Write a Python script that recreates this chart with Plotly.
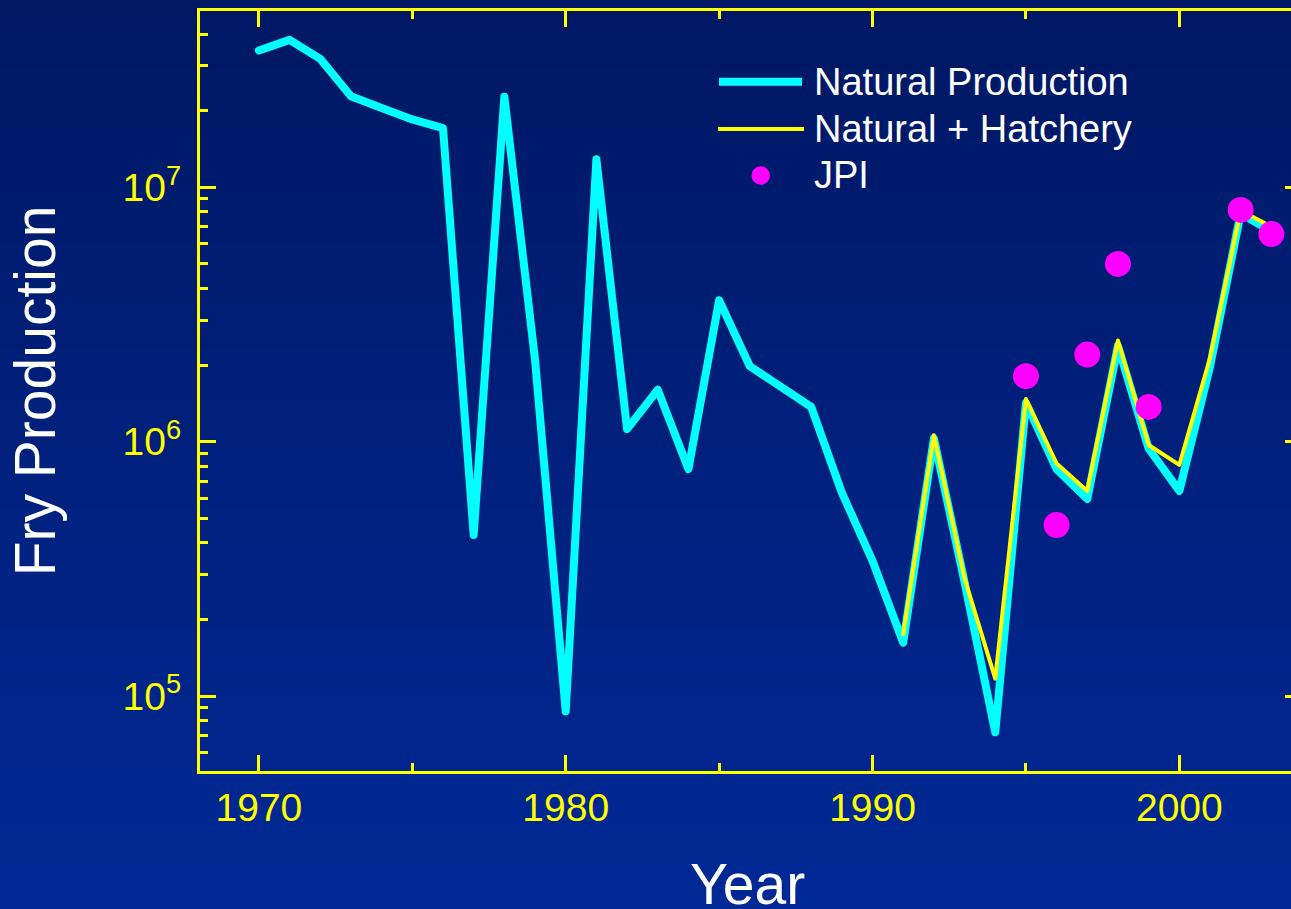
import plotly.graph_objects as go

# ---- data -------------------------------------------------------------
years_natural = list(range(1970, 2004))
natural_production = [
    3.45e7, 3.8e7, 3.2e7, 2.28e7, 2.05e7, 1.85e7, 1.71e7, 4.3e5, 2.27e7, 2.1e6,
    8.7e4, 1.29e7, 1.12e6, 1.6e6, 7.8e5, 3.6e6, 1.98e6, 1.66e6, 1.37e6, 6.3e5,
    3.4e5, 1.62e5, 1.03e6, 2.8e5, 7.2e4, 1.42e6, 7.8e5, 5.95e5, 2.38e6, 9.4e5,
    6.4e5, 1.97e6, 7.9e6, 6.7e6,
]

years_combined = list(range(1991, 2004))
natural_plus_hatchery = [
    1.75e5, 1.06e6, 2.9e5, 1.17e5, 1.47e6, 8.2e5, 6.4e5, 2.5e6, 9.7e5, 8.1e5,
    2.13e6, 8.1e6, 7.0e6,
]

years_jpi = [1995, 1996, 1997, 1998, 1999, 2002, 2003]
jpi = [1.81e6, 4.7e5, 2.2e6, 5.0e6, 1.37e6, 8.15e6, 6.55e6]

x_major = [1970, 1980, 1990, 2000]
x_minor = [1975, 1985, 1995]
y_major = [1e5, 1e6, 1e7]
y_major_text = ["10<sup>5</sup>", "10<sup>6</sup>", "10<sup>7</sup>"]
y_minor = [m * 10 ** e for e in (4, 5, 6, 7) for m in range(2, 10)
           if 5.5e4 < m * 10 ** e < 4.5e7]

legend_labels = ["Natural Production", "Natural + Hatchery", "JPI"]
x_title = "Year"
y_title = "Fry Production"

# ---- styling ------------------------------------------------------------
W, H = 1291, 909
ML, MR, MT, MB = 200, 0, 11, 138
PW, PH = W - ML - MR, H - MT - MB
X_RANGE = [1968.08, 2003.64]
Y_RANGE = [4.7051, 7.6933]

FONT = "Arial, 'Liberation Sans', sans-serif"
YELLOW = "#ffff00"
CYAN = "#00ffff"
MAGENTA = "#ff00ff"
WHITE = "#ffffff"


def px_x(px):
    return (px - ML) / PW


def px_y(py):
    return (H - MB - py) / PH


fig = go.Figure()

fig.add_trace(go.Scatter(
    x=years_natural, y=natural_production, mode="lines",
    line=dict(color=CYAN, width=8), name=legend_labels[0], showlegend=False,
))
fig.add_trace(go.Scatter(
    x=years_combined, y=natural_plus_hatchery, mode="lines",
    line=dict(color=YELLOW, width=4), name=legend_labels[1], showlegend=False,
    yaxis="y2",
))
fig.add_trace(go.Scatter(
    x=years_jpi, y=jpi, mode="markers",
    marker=dict(color=MAGENTA, size=26, line=dict(width=0)),
    name=legend_labels[2], showlegend=False, yaxis="y2",
))

# vertical background gradient (dark navy at top to brighter blue at bottom)
shapes = []
n_bands = 120
top_rgb = (0, 24, 100)
bot_rgb = (0, 41, 150)
for i in range(n_bands):
    t = i / (n_bands - 1)
    c = tuple(round(a + (b - a) * t) for a, b in zip(top_rgb, bot_rgb))
    y0 = i * H / n_bands
    y1 = (i + 1) * H / n_bands + 1
    shapes.append(dict(
        type="rect", xref="paper", yref="paper", layer="below",
        x0=px_x(0), x1=px_x(W), y0=px_y(y1), y1=px_y(y0),
        fillcolor="rgb(%d,%d,%d)" % c, line=dict(width=0),
    ))

# hand-built legend
legend_rows = [81.7, 129, 175.5]
shapes.append(dict(type="line", xref="paper", yref="paper",
                   x0=px_x(719), x1=px_x(802), y0=px_y(legend_rows[0]), y1=px_y(legend_rows[0]),
                   line=dict(color=CYAN, width=8)))
shapes.append(dict(type="line", xref="paper", yref="paper",
                   x0=px_x(718), x1=px_x(804), y0=px_y(legend_rows[1]), y1=px_y(legend_rows[1]),
                   line=dict(color=YELLOW, width=4)))
shapes.append(dict(type="circle", xref="paper", yref="paper",
                   x0=px_x(751.5), x1=px_x(770), y0=px_y(legend_rows[2] + 9.3), y1=px_y(legend_rows[2] - 9.3),
                   fillcolor=MAGENTA, line=dict(width=0)))

annotations = []
for label, row in zip(legend_labels, legend_rows):
    annotations.append(dict(
        text=label, xref="paper", yref="paper", x=px_x(812), y=px_y(row),
        xanchor="left", yanchor="middle", showarrow=False,
        font=dict(family=FONT, size=38, color=WHITE),
    ))

# x-axis title sits low, right at the bottom edge of the page
annotations.append(dict(
    text=x_title, xref="paper", yref="paper", x=px_x(747.5), y=px_y(849.5),
    xanchor="center", yanchor="top", showarrow=False,
    font=dict(family=FONT, size=57, color=WHITE),
))

axis_common = dict(
    showgrid=False, zeroline=False, showline=True, linecolor=YELLOW, linewidth=3,
    ticks="inside", tickcolor=YELLOW, tickwidth=2.5, ticklen=16,
    tickfont=dict(family=FONT, size=39, color=YELLOW),
)

fig.update_layout(
    width=W, height=H,
    margin=dict(l=ML, r=MR, t=MT, b=MB, pad=0),
    paper_bgcolor="#001a66", plot_bgcolor="rgba(0,0,0,0)",
    showlegend=False,
    shapes=shapes, annotations=annotations,
    xaxis=dict(
        **axis_common, range=X_RANGE, mirror="ticks",
        tickmode="array", tickvals=x_major, ticktext=[str(v) for v in x_major],
        minor=dict(tickmode="array", tickvals=x_minor, ticks="inside",
                   ticklen=8, tickwidth=2.5, tickcolor=YELLOW),
    ),
    yaxis=dict(
        **axis_common, type="log", range=Y_RANGE, ticklabelstandoff=8,
        tickmode="array", tickvals=y_major, ticktext=y_major_text,
        minor=dict(tickmode="array", tickvals=y_minor, ticks="inside",
                   ticklen=8, tickwidth=2.5, tickcolor=YELLOW),
        title=dict(text=y_title, font=dict(family=FONT, size=57, color=WHITE), standoff=49),
    ),
    yaxis2=dict(
        type="log", range=Y_RANGE, overlaying="y", side="right", anchor="x",
        showgrid=False, zeroline=False, showline=False,
        tickmode="array", tickvals=y_major, ticks="inside", ticklen=6,
        tickwidth=2.5, tickcolor=YELLOW, showticklabels=False,
    ),
)

# rounded joins and caps on the data lines
round_joins = (
    "document.querySelectorAll('.scatterlayer path.js-line').forEach(function(p){"
    "p.style.strokeLinejoin='round';p.style.strokeLinecap='round';});"
)

fig.write_html("out.html", post_script=round_joins)
